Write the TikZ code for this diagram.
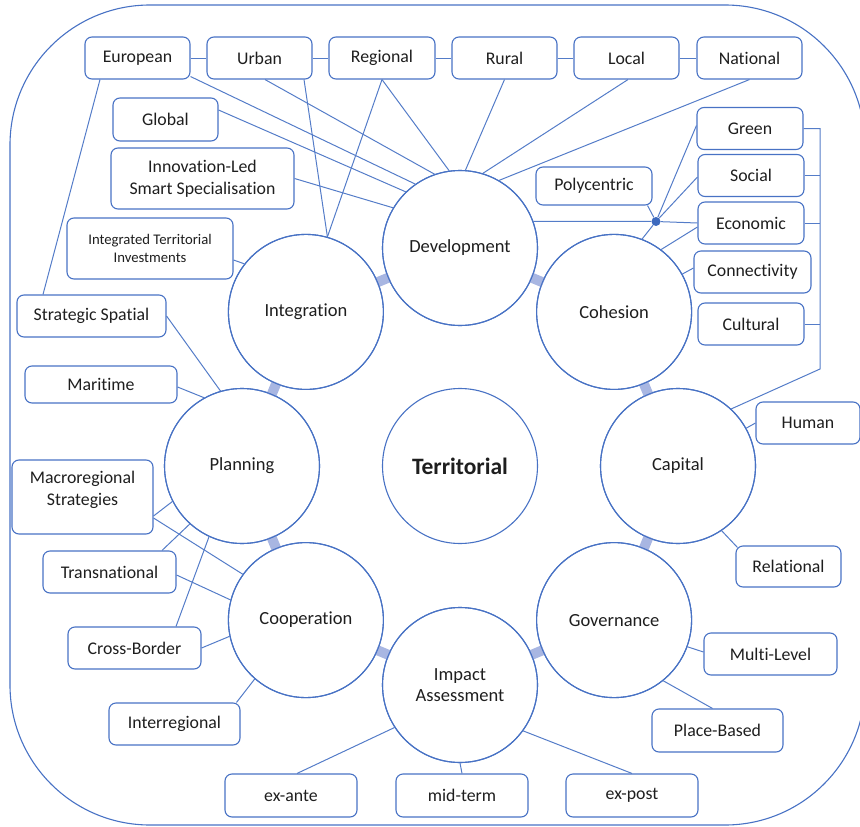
\documentclass[tikz,border=0pt]{standalone}
\usepackage{fontspec}
\setmainfont{Carlito}[RawFeature=-liga]
\usetikzlibrary{calc}
\definecolor{cblue}{RGB}{72,114,196}
\definecolor{lblue}{RGB}{84,124,200}
\definecolor{gblue}{RGB}{168,182,226}
\definecolor{dblue}{RGB}{60,105,190}
\definecolor{txt}{RGB}{30,30,30}
\tikzset{
  circ/.style={circle, draw=cblue, line width=1.1pt, minimum size=155pt, inner sep=0pt, text=txt, align=center, font=\fontsize{18.5}{21.5}\selectfont},
  box/.style={draw=cblue, rounded corners=7pt, line width=1.1pt, inner sep=0pt, minimum height=42pt, align=center, text=txt, font=\fontsize{17.8}{22}\selectfont},
  link/.style={draw=lblue, line width=1pt},
  ringbar/.style={draw=gblue, line width=10pt, shorten <=-1.5pt, shorten >=-1.5pt},
}
\begin{document}
\begin{tikzpicture}[x=1pt,y=-1pt]
\useasboundingbox (0,0) rectangle (860,827);
\begin{scope}
\clip (0,0) rectangle (860,827);
\draw[cblue, line width=1.1pt, rounded corners=140pt] (10,5) rectangle (865,825);
\end{scope}

% ring bars (under circles)
\coordinate (cdev) at (460,248);
\coordinate (cinteg) at (305.9,311.9);
\coordinate (ccoh) at (614.1,311.9);
\coordinate (cplan) at (242,466);
\coordinate (ccap) at (678,466);
\coordinate (ccoop) at (305.9,620.1);
\coordinate (cgov) at (614.1,620.1);
\coordinate (cimp) at (460,685);

% circles
\node[circ] (dev) at (cdev) {Development};
\node[circ] (integ) at (cinteg) {Integration};
\node[circ] (coh) at (ccoh) {Cohesion};
\node[circ] (plan) at (cplan) {Planning};
\node[circ, font=\bfseries\fontsize{23.5}{28}\selectfont] (terr) at (460,466) {Territorial};
\node[circ] (cap) at (ccap) {Capital};
\node[circ] (coop) at (ccoop) {Cooperation};
\node[circ] (gov) at (cgov) {Governance};
\node[circ] (imp) at (cimp) {Impact\\Assessment};

\draw[ringbar] (dev) -- (integ);
\draw[ringbar] (integ) -- (plan);
\draw[ringbar] (plan) -- (coop);
\draw[ringbar] (coop) -- (imp);
\draw[ringbar] (imp) -- (gov);
\draw[ringbar] (gov) -- (cap);
\draw[ringbar] (cap) -- (coh);
\draw[ringbar] (coh) -- (dev);

% redraw circle outlines over bars
\foreach \n in {dev,integ,coh,plan,cap,coop,gov,imp}{
  \draw[cblue, line width=1.1pt] (\n.center) circle (77.5pt);
}

% boxes
\node[box, minimum width=105pt] (eur) at (137.5,58) {European};
\node[box, minimum width=105pt] (urb) at (259.5,58) {Urban};
\node[box, minimum width=106pt] (reg) at (382,58) {Regional};
\node[box, minimum width=105pt] (rur) at (504.5,58) {Rural};
\node[box, minimum width=105pt] (loc) at (626.5,58) {Local};
\node[box, minimum width=105pt] (nat) at (749.5,58) {National};
\node[box, minimum width=105pt, minimum height=43pt] (glob) at (165.5,119.5) {Global};
\node[box, minimum width=183pt, minimum height=61pt] (inn) at (202.5,178.5) {Innovation-Led\\Smart Specialisation};
\node[box, minimum width=166pt, minimum height=61pt, font=\fontsize{14.7}{17.5}\selectfont] (iti) at (150,248.5) {Integrated Territorial\\Investments};
\node[box, minimum width=149pt] (ss) at (91.5,316) {Strategic Spatial};
\node[box, minimum width=152pt, minimum height=37pt] (mar) at (101,384.5) {Maritime};
\node[box, minimum width=141pt, minimum height=74pt] (mac) at (82.5,497) {Macroregional\\Strategies\\[-4pt]};
\node[box, minimum width=133pt] (trans) at (109.5,572) {Transnational};
\node[box, minimum width=133pt] (cb) at (134.5,648) {Cross-Border};
\node[box, minimum width=131pt] (ir) at (174.5,724) {Interregional};
\node[box, minimum width=132pt, minimum height=43pt] (exa) at (291,795.5) {ex-ante};
\node[box, minimum width=132pt, minimum height=43pt] (mid) at (462,795.5) {mid-term};
\node[box, minimum width=132pt, minimum height=43pt] (exp) at (632,795.5) {ex-post};
\node[box, minimum width=131pt, minimum height=43pt] (pb) at (717.5,730.5) {Place-Based};
\node[box, minimum width=133pt] (ml) at (770.5,654) {Multi-Level};
\node[box, minimum width=105pt, minimum height=41pt] (rel) at (788.5,566.5) {Relational};
\node[box, minimum width=104pt] (hum) at (808,423) {Human};
\node[box, minimum width=106pt] (cul) at (751,324) {Cultural};
\node[box, minimum width=117pt] (con) at (752.5,272) {Connectivity};
\node[box, minimum width=106pt] (eco) at (751,223) {Economic};
\node[box, minimum width=106pt] (soc) at (751,175.5) {Social};
\node[box, minimum width=106pt] (grn) at (750,128.5) {Green};
\node[box, minimum width=116pt, minimum height=38pt] (poly) at (594,186) {Polycentric};

\node[circle, fill=dblue, inner sep=0pt, minimum size=9pt] (dot) at (656,221.5) {};

% top row chain
\draw[link] (eur) -- (urb);
\draw[link] (urb) -- (reg);
\draw[link] (reg) -- (rur);
\draw[link] (rur) -- (loc);
\draw[link] (loc) -- (nat);

% development links
\draw[link] ($(eur.south east)+(0,-3)$) -- (dev.125);
\draw[link] ($(urb.south)+(5.5,0)$) -- (dev.109);
\draw[link] ($(glob.east)+(0,-9.5)$) -- (dev.134.5);
\draw[link] (inn.east) -- (dev.149.2);
\draw[link] (reg.south) -- (dev.98.3);
\draw[link] (rur.south) -- (dev.86.2);
\draw[link] ($(loc.south)+(1.5,0)$) -- (dev.73.2);
\draw[link] (nat.south) -- (dev.60.7);

% integration links
\draw[link] ($(urb.south)+(44.5,0)$) -- (integ.74.5);
\draw[link] (reg.south) -- (integ.74.5);
\draw[link] ($(iti.east)+(0,11.5)$) -- (integ.142);

% european - strategic spatial
\draw[link] ($(eur.south)+(-37.5,0)$) -- ($(ss.north)+(-48.5,0)$);

% polycentric hub
\draw[link] (dev.20) -- (dot) -- (eco.west);
\draw[link] (dot) -- ($(grn.west)+(0,-3)$);
\draw[link] (dot) -- ($(soc.west)+(0,1.5)$);
\draw[link] (dot) -- ($(poly.south east)+(-5,0)$);
\draw[link] (dot) -- (coh.69.8);

% cohesion links
\draw[link] ($(eco.west)+(0,4)$) -- (coh.53.9);
\draw[link] ($(con.west)+(0,-4)$) -- (coh.29.2);

% bracket to capital
\coordinate (brk) at (820,369);
\draw[link] (grn.east) -| (brk) -- (cap.47.6);
\draw[link] (soc.east) -- (soc.east -| brk);
\draw[link] (eco.east) -- (eco.east -| brk);
\draw[link] (cul.east) -- (cul.east -| brk);

% capital links
\draw[link] (hum.west) -- (cap.29.8);
\draw[link] ($(rel.north west)+(2,2)$) -- (cap.-56.5);

% governance links
\draw[link] ($(ml.west)+(0,-2)$) -- (gov.-20);
\draw[link] ($(pb.north)+(-5,0)$) -- (gov.-51.7);

% impact links
\draw[link] (exp.north) -- (imp.-36.7);
\draw[link] (mid.north) -- (imp.-90);
\draw[link] ($(exa.north)+(6,0)$) -- (imp.213.7);

% cooperation links
\draw[link] ($(ir.north)+(62,0)$) -- (coop.229.6);
\draw[link] (cb.east) -- (coop.192.6);
\draw[link] ($(trans.east)+(0,3)$) -- (coop.165.6);
\draw[link] ($(mac.east)+(0,21)$) -- (coop.144.3);

% planning links
\draw[link] ($(cb.north)+(41.5,0)$) -- (plan.245.7);
\draw[link] ($(trans.north)+(52.5,0)$) -- (plan.228.6);
\draw[link] ($(mac.east)+(0,19)$) -- (plan.207.9);
\draw[link] ($(mar.east)+(0,2.5)$) -- (plan.119.8);
\draw[link] (ss.east) -- (plan.106.6);
\end{tikzpicture}
\end{document}
